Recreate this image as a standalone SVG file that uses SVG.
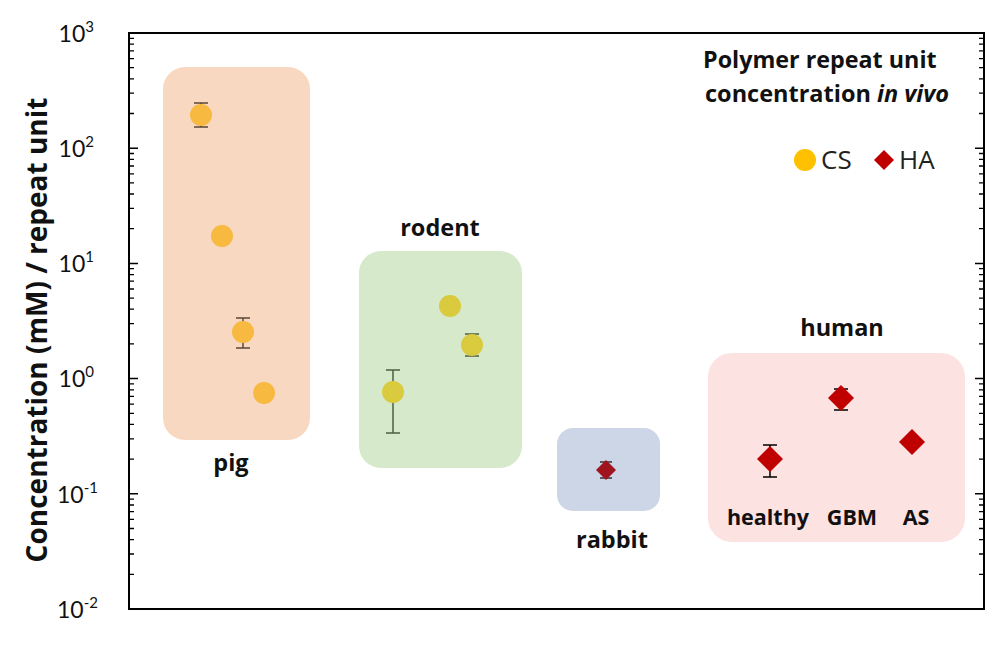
<svg xmlns="http://www.w3.org/2000/svg" width="1000" height="647" viewBox="0 0 1000 647">
<style>
.lbl{font-family:"Open Sans","Liberation Sans",sans-serif;font-weight:bold;font-size:23.5px;fill:#111;text-anchor:middle}
.hl{font-size:21.5px}
.tick{font-family:Lato,"Liberation Sans",sans-serif;font-size:23px;fill:#111;text-anchor:end}
.sup{font-size:15px}
.leg{font-family:"Open Sans","Liberation Sans",sans-serif;font-size:26px;fill:#222}
.cs{fill:#F7B940}
.csr{fill:#DACA3E}
.ha{fill:#C00000}
.err{fill:none;stroke-width:1.5}
</style>
<rect width="1000" height="647" fill="#fff"/>
<g id="groups">
<rect id="pig-box" x="163" y="67" width="147" height="373" rx="22" fill="#F9D8C1"/>
<rect id="rodent-box" x="359" y="251" width="163" height="217" rx="22" fill="#D6E9CA"/>
<rect id="rabbit-box" x="557" y="428" width="103" height="83" rx="16" fill="#CDD6E7"/>
<rect id="human-box" x="708" y="353" width="257" height="189" rx="24" fill="#FDE2E2"/>
</g>
<g id="axes" stroke="#000" fill="none">
<rect x="129" y="33" width="855" height="576" stroke-width="2"/>
<path stroke-width="1.5" d="M129 33h9M129 148.2h9M129 263.4h9M129 378.6h9M129 493.8h9M129 609h9
M975 33h9M975 148.2h9M975 263.4h9M975 378.6h9M975 493.8h9"/>
<path id="minor" stroke-width="1.3" d="
M129 574.3h5M129 554h5M129 539.6h5M129 528.5h5M129 519.4h5M129 511.6h5M129 505h5M129 499.1h5
M129 459.1h5M129 438.8h5M129 424.4h5M129 413.3h5M129 404.2h5M129 396.4h5M129 389.8h5M129 383.9h5
M129 343.9h5M129 323.6h5M129 309.2h5M129 298.1h5M129 289h5M129 281.2h5M129 274.6h5M129 268.7h5
M129 228.7h5M129 208.4h5M129 194h5M129 182.9h5M129 173.8h5M129 166h5M129 159.4h5M129 153.5h5
M129 113.5h5M129 93.2h5M129 78.8h5M129 67.7h5M129 58.6h5M129 50.8h5M129 44.2h5M129 38.3h5
M979 574.3h5M979 554h5M979 539.6h5M979 528.5h5M979 519.4h5M979 511.6h5M979 505h5M979 499.1h5
M979 459.1h5M979 438.8h5M979 424.4h5M979 413.3h5M979 404.2h5M979 396.4h5M979 389.8h5M979 383.9h5
M979 343.9h5M979 323.6h5M979 309.2h5M979 298.1h5M979 289h5M979 281.2h5M979 274.6h5M979 268.7h5
M979 228.7h5M979 208.4h5M979 194h5M979 182.9h5M979 173.8h5M979 166h5M979 159.4h5M979 153.5h5
M979 113.5h5M979 93.2h5M979 78.8h5M979 67.7h5M979 58.6h5M979 50.8h5M979 44.2h5M979 38.3h5"/>
</g>
<g id="tick-labels">
<text class="tick" x="94" y="42">10<tspan class="sup" dy="-10">3</tspan></text>
<text class="tick" x="94" y="157">10<tspan class="sup" dy="-10">2</tspan></text>
<text class="tick" x="94" y="272">10<tspan class="sup" dy="-10">1</tspan></text>
<text class="tick" x="94" y="387">10<tspan class="sup" dy="-10">0</tspan></text>
<text class="tick" x="98" y="503">10<tspan class="sup" dy="-10">-1</tspan></text>
<text class="tick" x="98" y="618">10<tspan class="sup" dy="-10">-2</tspan></text>
</g>
<text id="y-title" transform="translate(47 330) rotate(-90)" style="font-family:'Open Sans','Liberation Sans',sans-serif;font-weight:bold;font-size:28px;fill:#111;text-anchor:middle">Concentration (mM) / repeat unit</text>
<g id="title">
<text class="lbl" x="703" y="68" style="font-size:23.3px;text-anchor:start">Polymer repeat unit</text>
<text class="lbl" x="705" y="102" style="font-size:23.5px;text-anchor:start">concentration <tspan font-style="italic">in vivo</tspan></text>
</g>
<g id="legend">
<circle cx="805" cy="160" r="11" fill="#FFC000"/>
<text class="leg" x="821" y="169">CS</text>
<path class="ha" d="M884 150l10 10-10 10-10-10z"/>
<text class="leg" x="899" y="169">HA</text>
</g>
<g id="pig">
<g stroke="#5a4636" class="err"><path d="M201 103v24M194 103h14M194 127h14M243 318v30M236 318h14M236 348h14"/></g>
<circle class="cs" cx="201" cy="115" r="11"/>
<circle class="cs" cx="222" cy="236" r="11"/>
<circle class="cs" cx="243" cy="332" r="11"/>
<circle class="cs" cx="264" cy="393" r="11"/>
<text class="lbl" x="231" y="471">pig</text>
</g>
<g id="rodent">
<g stroke="#4c5f40" class="err"><path d="M393 370v63M386 370h14M386 433h14M472 334v22M465 334h14M465 356h14"/></g>
<circle class="csr" cx="450" cy="306" r="11"/>
<circle class="csr" cx="472" cy="345" r="11"/>
<circle class="csr" cx="393" cy="392" r="11"/>
<text class="lbl" x="440" y="236">rodent</text>
</g>
<g id="rabbit">
<g stroke="#333" class="err"><path d="M606 462v16M600 462h12M600 478h12"/></g>
<path d="M606 460l10 10-10 10-10-10z" fill="#A0141E"/>
<text class="lbl" x="612" y="548">rabbit</text>
</g>
<g id="human">
<g stroke="#000" class="err"><path d="M770 445v32M763 445h14M763 477h14M841 389v21M834 389h14M834 410h14"/></g>
<path class="ha" d="M770 446l13 13-13 13-13-13z"/>
<path class="ha" d="M841 385l13 13-13 13-13-13z"/>
<path class="ha" d="M912 429l13 13-13 13-13-13z"/>
<text class="lbl" x="842" y="336">human</text>
<text class="lbl hl" x="768" y="525">healthy</text>
<text class="lbl hl" x="852" y="525">GBM</text>
<text class="lbl hl" x="916" y="525">AS</text>
</g>
</svg>
